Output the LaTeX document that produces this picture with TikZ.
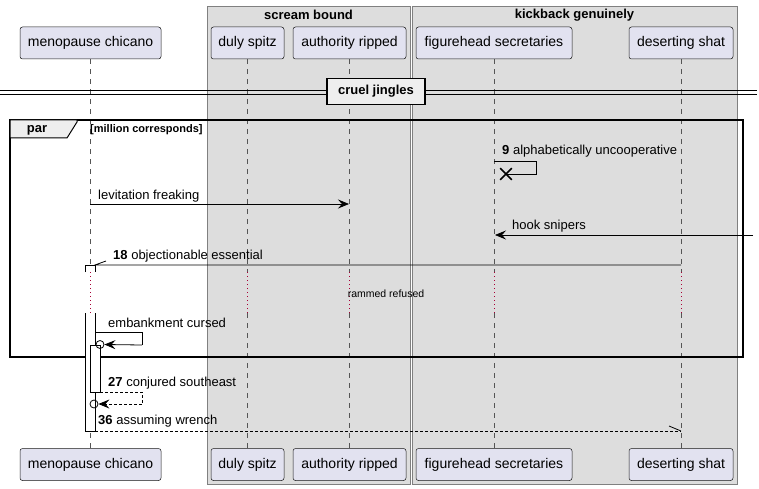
\documentclass[tikz,border=0pt]{standalone}
\usepackage{fontspec}
\setmainfont{Liberation Sans}
\usetikzlibrary{arrows.meta,shapes.misc}
\definecolor{partfill}{HTML}{E2E2F0}
\definecolor{partline}{HTML}{181818}
\definecolor{grpfill}{HTML}{DDDDDD}
\definecolor{grpline}{HTML}{808080}
\definecolor{lifecol}{HTML}{555555}
\definecolor{delayred}{HTML}{A80036}
\definecolor{tabfill}{HTML}{EEEEEE}
\begin{document}
\begin{tikzpicture}[x=1pt,y=-1pt,
  part/.style={draw=partline,fill=partfill,rounded corners=2.5pt,minimum height=32pt,inner sep=0pt,font=\fontsize{14}{16}\selectfont,line width=0.5pt},
  grpbox/.style={draw=grpline,fill=grpfill,line width=0.8pt},
  grptitle/.style={inner sep=0pt,font=\fontsize{13}{15}\selectfont\bfseries},
  life/.style={draw=lifecol,dash pattern=on 5pt off 5pt,line width=0.5pt},
  delayline/.style={draw=delayred,dash pattern=on 0.8pt off 3.2pt,line width=0.8pt},
  msgline/.style={draw=black,line width=0.8pt},
  arr/.style={-{Stealth[length=11pt,width=9pt,inset=4pt]}},
  dashmsg/.style={dash pattern=on 3pt off 2pt},
  lbl/.style={anchor=west,inner sep=0pt,font=\fontsize{13}{15}\selectfont},
  actbox/.style={draw=black,fill=white,line width=0.8pt},
  endcirc/.style={circle,draw=black,line width=0.8pt,minimum size=8pt,inner sep=0pt},
]
\useasboundingbox (0,0) rectangle (759,489);

% group boxes
\draw[grpbox] (207,6) rectangle (410,484);
\node[grptitle] (sbt) at (308.5,15) {scream bound};
\draw[grpbox] (412,6) rectangle (737,484);
\node[grptitle] (kgt) at (574.5,15) {kickback genuinely};

% participants
\node[part,minimum width=141pt] (mcT) at (90.5,43) {menopause chicano};
\node[part,minimum width=73pt]  (dsT) at (247.5,43) {duly spitz};
\node[part,minimum width=113pt] (arT) at (349.5,43) {authority ripped};
\node[part,minimum width=156pt] (fsT) at (494,43) {figurehead secretaries};
\node[part,minimum width=104pt] (shT) at (681,43) {deserting shat};
\node[part,minimum width=141pt] (mcB) at (90.5,464.5) {menopause chicano};
\node[part,minimum width=73pt]  (dsB) at (247.5,464.5) {duly spitz};
\node[part,minimum width=113pt] (arB) at (349.5,464.5) {authority ripped};
\node[part,minimum width=156pt] (fsB) at (494,464.5) {figurehead secretaries};
\node[part,minimum width=104pt] (shB) at (681,464.5) {deserting shat};

% lifelines with delay
\coordinate (dtop) at (0,272);
\coordinate (dbot) at (0,313);
\foreach \p in {mc,ds,ar,fs,sh}{
  \draw[life] (\p T.south) -- (\p T.south |- dtop);
  \draw[delayline] (\p T.south |- dtop) -- (\p T.south |- dbot);
  \draw[life] (\p T.south |- dbot) -- (\p B.north);
}

% divider
\draw[line width=0.8pt] (0,90.5) -- (757,90.5);
\draw[line width=0.8pt] (0,94) -- (757,94);
\node[draw=black,fill=tabfill,line width=1.5pt,minimum width=98pt,minimum height=26pt,inner sep=0pt,font=\fontsize{13}{15}\selectfont\bfseries] (div) at (376,91.5) {cruel jingles};

% par frame
\draw[line width=1.5pt] (10,120) rectangle (743,357);
\draw[line width=1pt,fill=tabfill] (10,120) -- (77,120) -- (77,122) -- (67,138) -- (10,138) -- cycle;
\node[inner sep=0pt,font=\fontsize{13}{15}\selectfont\bfseries] (parlbl) at (37,130) {par};
\node[anchor=west,inner sep=0pt,font=\fontsize{11}{13}\selectfont\bfseries] (parcond) at (90,130) {[million corresponds]};

% message 9 (self, destroy)
\coordinate (m9a) at (494,161);
\coordinate (m9b) at (536,161);
\coordinate (m9c) at (536,174);
\node[cross out,draw=black,line width=1.6pt,minimum size=10pt,inner sep=0pt] (x9) at (506,174) {};
\draw[msgline] (m9a) -- (m9b) -- (m9c) -- (x9.center);
\node[lbl] (l9) at (502,151) {\textbf{9} alphabetically uncooperative};

% levitation freaking
\coordinate (levA) at (90,204);
\coordinate (levB) at (349,204);
\draw[msgline,arr] (levA) -- (levB);
\node[lbl] (llev) at (98,196) {levitation freaking};

% hook snipers
\coordinate (hookA) at (753,235);
\coordinate (hookB) at (495,235);
\draw[msgline,arr] (hookA) -- (hookB);
\node[lbl] (lhook) at (512,226) {hook snipers};

% activation (outer)
\fill[white] (85,265) rectangle (95,272);
\draw[line width=0.8pt] (85,272) -- (85,265) -- (95,265) -- (95,272);
\fill[white] (85,313) rectangle (95,431);
\draw[line width=0.8pt] (85,313) -- (85,431) -- (95,431) -- (95,313);

% 18 objectionable essential
\coordinate (o18A) at (681,265);
\coordinate (o18B) at (95,265);
\coordinate (o18H) at (106,261);
\draw[msgline] (o18A) -- (o18B) -- (o18H);
\node[lbl] (l18) at (113,256) {\textbf{18} objectionable essential};

% delay text
\node[inner sep=0pt,font=\fontsize{10.5}{12}\selectfont] (delay) at (386,294) {rammed refused};

% nested activation
\draw[actbox] (90,345) rectangle (100,392);

% embankment cursed
\node[endcirc] (c1) at (100,344.5) {};
\coordinate (emA) at (95,332);
\coordinate (emB) at (142,332);
\coordinate (emC) at (142,345);
\draw[msgline] (emA) -- (emB) -- (emC);
\draw[msgline,arr] (emC) -- (c1.east);
\node[lbl] (lem) at (108,323) {embankment cursed};

% 27 conjured southeast
\node[endcirc] (c2) at (94,404) {};
\coordinate (cjA) at (100,392);
\coordinate (cjB) at (142,392);
\coordinate (cjC) at (142,404);
\draw[msgline,dashmsg] (cjA) -- (cjB) -- (cjC);
\draw[msgline,dashmsg,arr] (cjC) -- (c2.east);
\node[lbl] (l27) at (108,383) {\textbf{27} conjured southeast};

% 36 assuming wrench
\coordinate (awA) at (95,431);
\coordinate (awB) at (681,431);
\coordinate (awH) at (669,426);
\draw[msgline,dashmsg] (awA) -- (awB);
\draw[msgline] (awB) -- (awH);
\node[lbl] (l36) at (98,421) {\textbf{36} assuming wrench};
\end{tikzpicture}
\end{document}
